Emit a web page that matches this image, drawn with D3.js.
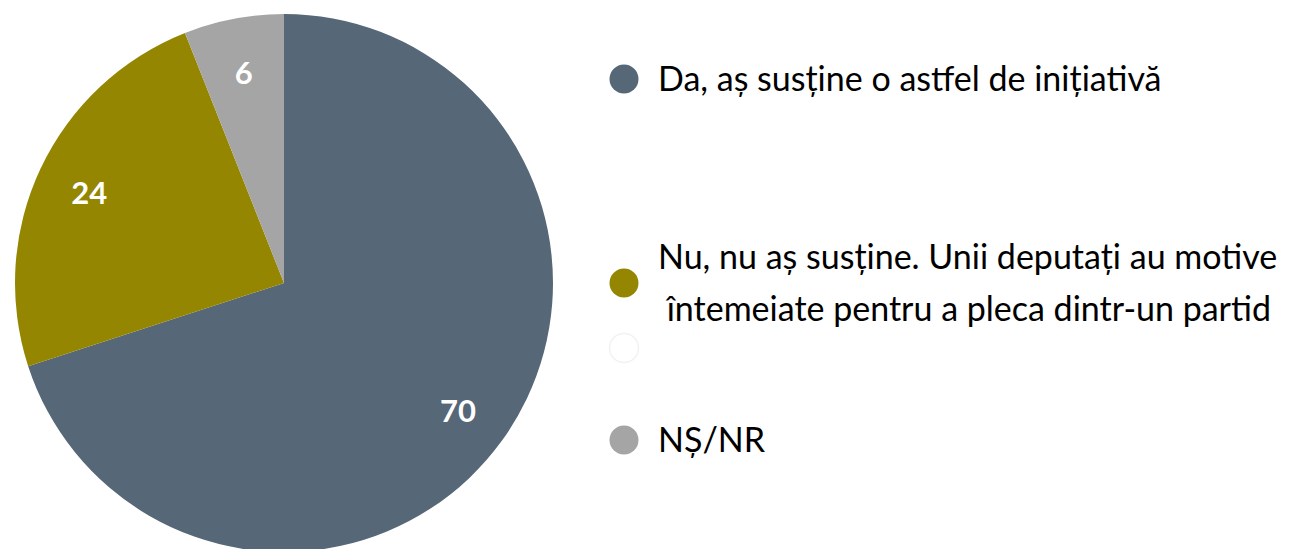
<!DOCTYPE html>
<html>
<head>
<meta charset="utf-8">
<script src="https://cdn.jsdelivr.net/npm/d3@7"></script>
<style>
  body { margin: 0; background: #fff; }
  svg { display: block; font-family: Lato, "Open Sans", sans-serif; }
</style>
</head>
<body>
<svg id="chart"></svg>
<script>
const categories = [
  "Da, aș susține o astfel de inițiativă",
  "Nu, nu aș susține. Unii deputați au motive\n întemeiate pentru a pleca dintr-un partid",
  "",
  "NȘ/NR"
];
const values = [70, 24, 0, 6];
const colors = ["#566778", "#948600", "#ffffff", "#a5a5a5"];

const width = 1295, height = 549;
const radius = 269;

const svg = d3.select("#chart")
  .attr("width", width)
  .attr("height", height);

const data = categories.map((c, i) => ({ label: c, value: values[i], color: colors[i] }));

const pie = d3.pie()
  .sort(null)
  .value(d => d.value);

const arc = d3.arc()
  .innerRadius(0)
  .outerRadius(radius);

const labelArc = d3.arc()
  .innerRadius(radius * 0.8)
  .outerRadius(radius * 0.8);

const g = svg.append("g")
  .attr("transform", "translate(284,283)");

const arcs = pie(data).filter(d => d.data.value > 0);

g.selectAll("path")
  .data(arcs)
  .enter()
  .append("path")
  .attr("d", arc)
  .attr("fill", d => d.data.color);

g.selectAll("text")
  .data(arcs)
  .enter()
  .append("text")
  .attr("transform", d => `translate(${labelArc.centroid(d)})`)
  .attr("dy", "0.4em")
  .attr("text-anchor", "middle")
  .attr("fill", "#fff")
  .style("font-weight", "bold")
  .style("font-size", "31px")
  .text(d => d.data.value);

// legend
const legendY = [79, 283, 348, 440];
const legend = svg.append("g");

const items = legend.selectAll("g")
  .data(data)
  .enter()
  .append("g")
  .attr("transform", (d, i) => `translate(624,${legendY[i]})`);

items.append("circle")
  .attr("r", 14.5)
  .attr("fill", d => d.color)
  .attr("stroke", d => d.color === "#ffffff" ? "#f2f2f2" : "none")
  .attr("stroke-width", 1.5);

items.append("text")
  .attr("x", 34)
  .attr("fill", "#000")
  .style("font-size", "34px")
  .style("white-space", "pre")
  .each(function(d) {
    const lines = d.label.split("\n");
    const t = d3.select(this);
    const lh = 52;
    const off = -(lines.length - 1) * lh / 2;
    lines.forEach((ln, k) => {
      t.append("tspan")
        .attr("x", 34)
        .attr("y", off + k * lh)
        .attr("dy", "0.35em")
        .text(ln);
    });
  });
</script>
</body>
</html>
